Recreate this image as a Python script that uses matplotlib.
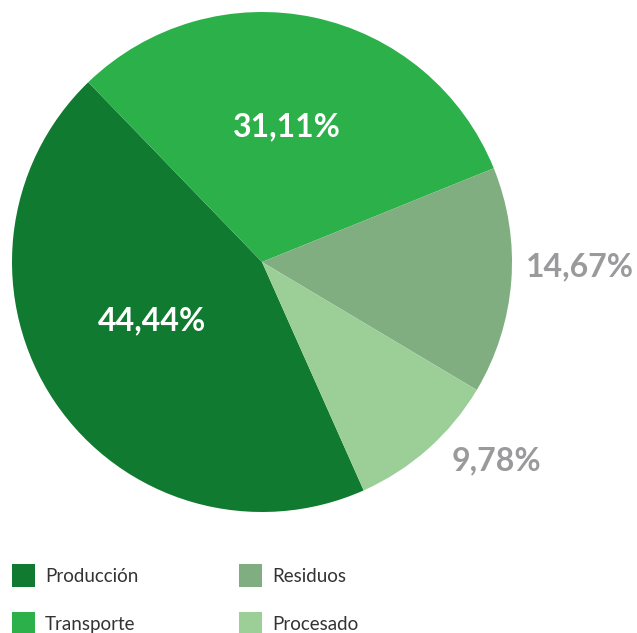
import matplotlib
matplotlib.use("Agg")
import matplotlib.pyplot as plt
from matplotlib.patches import Rectangle
import numpy as np

plt.rcParams['font.family'] = ['Lato', 'DejaVu Sans']

# data
categorias = ["Producción", "Transporte", "Residuos", "Procesado"]
valores = [44.44, 31.11, 14.67, 9.78]
etiquetas = ["44,44%", "31,11%", "14,67%", "9,78%"]
colores = ["#107a30", "#2bb04a", "#80ae80", "#9ccf98"]

W, H = 637, 633
fig = plt.figure(figsize=(W / 100, H / 100), dpi=100)

# pie occupies a 500px square centred at (262, 262) from the top-left
cx, cy, r = 262, 262, 250
ax = fig.add_axes([(cx - r) / W, (H - cy - r) / H, 2 * r / W, 2 * r / H])

wedges, _ = ax.pie(valores, colors=colores, startangle=294, counterclock=False,
                   radius=1, wedgeprops=dict(linewidth=0))
ax.set_xlim(-1, 1)
ax.set_ylim(-1, 1)
ax.set_aspect('auto')
ax.axis('off')

# label placement: (radius, angle shift in degrees) per slice
pos = [(0.50, -6), (0.55, 1.5), (1.27, 3.5), (1.23, 8)]
for w, lab, (rr, da) in zip(wedges, etiquetas, pos):
    mid = np.deg2rad((w.theta1 + w.theta2) / 2 + da)
    x, y = rr * np.cos(mid), rr * np.sin(mid)
    inside = rr < 1
    ax.text(x, y, lab, ha='center', va='center', fontsize=23, fontweight='bold',
            color='white' if inside else '#9a9a9c', clip_on=False)

# legend drawn by hand, two columns (pixel layout from the top-left)
col_x = [12, 239]
row_y = [564, 612]
sq = 23
for i, (cat, col) in enumerate(zip(categorias, colores)):
    x0 = col_x[i // 2]
    y0 = row_y[i % 2]
    fig.patches.append(Rectangle((x0 / W, 1 - (y0 + sq) / H), sq / W, sq / H,
                                 transform=fig.transFigure, facecolor=col,
                                 edgecolor='none'))
    fig.text((x0 + 33) / W, 1 - (y0 + sq / 2 + 1) / H, cat, ha='left',
             va='center', fontsize=13.5, color='#333333')

fig.savefig("out.png", dpi=100)
